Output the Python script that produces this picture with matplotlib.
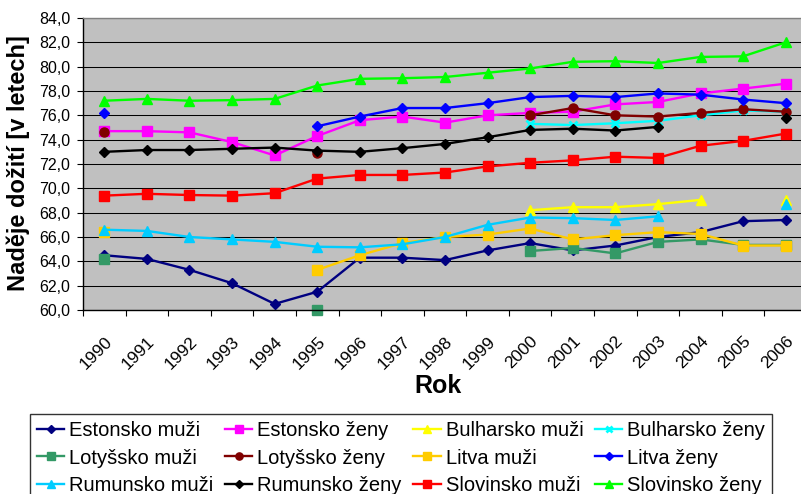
import numpy as np
import matplotlib
matplotlib.use("Agg")
import matplotlib.pyplot as plt
from matplotlib.ticker import FixedLocator, FuncFormatter
from matplotlib.transforms import ScaledTranslation

plt.rcParams['font.family'] = ['Liberation Sans', 'DejaVu Sans']

nan = np.nan
years = [1990, 1991, 1992, 1993, 1994, 1995, 1996, 1997, 1998, 1999,
         2000, 2001, 2002, 2003, 2004, 2005, 2006]

estonsko_muzi = [64.5, 64.2, 63.3, 62.2, 60.5, 61.5, 64.3, 64.3, 64.1, 64.9,
                 65.5, 64.9, 65.3, 66.0, 66.4, 67.3, 67.4]
estonsko_zeny = [74.7, 74.7, 74.6, 73.8, 72.7, 74.3, 75.6, 75.9, 75.4, 76.0,
                 76.2, 76.3, 76.9, 77.1, 77.8, 78.2, 78.6]
bulharsko_muzi = [nan, nan, nan, nan, nan, nan, nan, nan, nan, nan,
                  68.2, 68.45, 68.45, 68.7, 69.05, nan, 69.05]
bulharsko_zeny = [nan, nan, nan, nan, nan, nan, nan, nan, nan, nan,
                  75.3, 75.2, 75.35, 75.55, 76.0, 76.4, 76.3]
lotyssko_muzi = [64.2, nan, nan, nan, nan, 60.0, nan, nan, nan, nan,
                 64.85, 65.1, 64.65, 65.6, 65.8, 65.35, 65.35]
lotyssko_zeny = [74.6, nan, nan, nan, nan, 72.9, nan, nan, nan, nan,
                 76.0, 76.6, 76.0, 75.9, 76.2, 76.5, 76.3]
litva_muzi = [66.4, nan, nan, nan, nan, 63.3, 64.5, 65.5, 66.0, 66.2,
              66.7, 65.8, 66.15, 66.4, 66.25, 65.3, 65.3]
litva_zeny = [76.2, nan, nan, nan, nan, 75.1, 75.9, 76.6, 76.6, 77.0,
              77.5, 77.6, 77.5, 77.8, 77.7, 77.3, 77.0]
rumunsko_muzi = [66.6, 66.5, 66.0, 65.8, 65.6, 65.2, 65.15, 65.4, 66.0, 67.0,
                 67.6, 67.55, 67.4, 67.7, nan, nan, 68.75]
rumunsko_zeny = [73.0, 73.15, 73.15, 73.25, 73.35, 73.1, 73.0, 73.3, 73.65, 74.2,
                 74.8, 74.9, 74.75, 75.05, nan, nan, 75.8]
slovinsko_muzi = [69.4, 69.55, 69.45, 69.4, 69.6, 70.8, 71.1, 71.1, 71.3, 71.8,
                  72.1, 72.3, 72.6, 72.5, 73.5, 73.9, 74.5]
slovinsko_zeny = [77.2, 77.35, 77.2, 77.25, 77.35, 78.45, 79.0, 79.05, 79.15, 79.5,
                  79.85, 80.4, 80.45, 80.3, 80.8, 80.85, 82.0]

series_names = ["Estonsko muži", "Estonsko ženy", "Bulharsko muži", "Bulharsko ženy",
                "Lotyšsko muži", "Lotyšsko ženy", "Litva muži", "Litva ženy",
                "Rumunsko muži", "Rumunsko ženy", "Slovinsko muži", "Slovinsko ženy"]
series_values = [estonsko_muzi, estonsko_zeny, bulharsko_muzi, bulharsko_zeny,
                 lotyssko_muzi, lotyssko_zeny, litva_muzi, litva_zeny,
                 rumunsko_muzi, rumunsko_zeny, slovinsko_muzi, slovinsko_zeny]
colors = ["#000080", "#FF00FF", "#FFFF00", "#00FFFF",
          "#339966", "#800000", "#FFCC00", "#0000FF",
          "#00CCFF", "#000000", "#FF0000", "#00FF00"]
markers = ["D", "s", "^", "x", "s", "o", "s", "D", "^", "D", "s", "^"]
msizes = [5.5, 6.5, 7.0, 6.0, 6.5, 6.5, 6.5, 5.5, 7.0, 5.5, 6.5, 7.0]

W, H = 801, 494
fig = plt.figure(figsize=(W / 100, H / 100), dpi=100)
ax = fig.add_axes([83 / W, 1 - 310 / H, 724 / W, 292 / H])
ax.set_facecolor("#C0C0C0")

x = np.arange(len(years))
handles = []
for name, vals, c, m, ms in zip(series_names, series_values, colors, markers, msizes):
    mew = 2.0 if m == "x" else 1.0
    h, = ax.plot(x, np.array(vals, dtype=float), color=c, lw=1.7, marker=m,
                 markersize=ms, markerfacecolor=c, markeredgecolor=c,
                 markeredgewidth=mew, label=name, clip_on=False)
    handles.append(h)

ax.set_xlim(-0.5, len(years) - 0.5)
ax.set_ylim(60, 84)
yt = np.arange(60, 84.1, 2)
ax.set_yticks(yt)
ax.yaxis.set_major_formatter(FuncFormatter(lambda v, p: f"{v:.1f}".replace(".", ",")))
ax.grid(axis="y", color="black", lw=0.75)
ax.set_axisbelow(True)

ax.set_xticks(x)
ax.set_xticklabels([str(y) for y in years], rotation=45, ha="right", va="top",
                   rotation_mode="anchor", fontsize=12.5)
shift = ScaledTranslation(-4 / 100, 0, fig.dpi_scale_trans)
for lab in ax.get_xticklabels():
    lab.set_transform(lab.get_transform() + shift)
ax.xaxis.set_minor_locator(FixedLocator(np.arange(-0.5, len(years), 1.0)))
ax.tick_params(axis="x", which="major", length=0, pad=17)
ax.tick_params(axis="x", which="minor", length=4, width=0.8, color="black", direction="out")
ax.tick_params(axis="y", which="major", length=4, width=0.8, color="black",
               direction="out", labelsize=11.5, pad=5)

for s in ["top", "right"]:
    ax.spines[s].set_color("#808080")
    ax.spines[s].set_linewidth(1.0)
for s in ["left", "bottom"]:
    ax.spines[s].set_color("black")
    ax.spines[s].set_linewidth(1.0)

fig.text(18 / W, 1 - 163 / H, "Naděje dožití [v letech]", rotation=90,
         fontsize=17, fontweight="bold", ha="center", va="center")
fig.text(438 / W, 1 - 386 / H, "Rok", fontsize=18, fontweight="bold",
         ha="center", va="center")

# legend is filled column-wise by matplotlib; reorder so rows read as in the reference
ncol, nrow = 4, 3
order = [r * ncol + c for c in range(ncol) for r in range(nrow)]
leg = fig.legend([handles[i] for i in order], [series_names[i] for i in order],
                 loc="upper left",
                 bbox_to_anchor=(30 / W, 1 - 414 / H), ncol=ncol, frameon=True,
                 fancybox=False, edgecolor="black", fontsize=14.5,
                 handlelength=1.35, handletextpad=0.25, columnspacing=0.58,
                 borderpad=0.35, labelspacing=0.42, borderaxespad=0,
                 numpoints=1, markerscale=0.8)
leg.get_frame().set_linewidth(1.0)

fig.savefig("out.png", dpi=100)
